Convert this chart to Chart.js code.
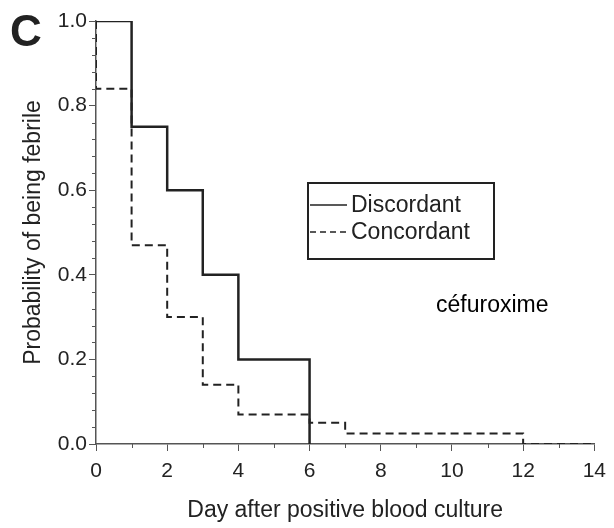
<!DOCTYPE html>
<html>
<head>
<meta charset="utf-8">
<script src="https://cdn.jsdelivr.net/npm/chart.js@4.4.0/dist/chart.umd.min.js"></script>
<style>
  html, body { margin: 0; padding: 0; background: #fff; }
  #wrap { width: 614px; height: 528px; position: relative; }
</style>
</head>
<body>
<div id="wrap"><canvas id="myChart" width="614" height="528"></canvas></div>
<script>
// Kaplan-Meier steps
const discordantDays = [0, 1, 2, 3, 4, 6];
const discordantProb = [1.0, 0.75, 0.6, 0.4, 0.2, 0.0];
const concordantDays = [0, 0, 1, 2, 3, 4, 6, 7, 12, 14];
const concordantProb = [1.0, 0.84, 0.47, 0.3, 0.14, 0.07, 0.05, 0.025, 0.0, 0.0];

const xTicks = [0, 2, 4, 6, 8, 10, 12, 14];
const yTicks = [0.0, 0.2, 0.4, 0.6, 0.8, 1.0];
const xMinor = [1, 3, 5, 7, 9, 11, 13];
const yMinor = [0.04, 0.08, 0.12, 0.16, 0.24, 0.28, 0.32, 0.36, 0.44, 0.48, 0.52, 0.56, 0.64, 0.68, 0.72, 0.76, 0.84, 0.88, 0.92, 0.96];

const seriesNames = ["Discordant", "Concordant"];
const drugLabel = "céfuroxime";
const panelLetter = "C";

const font = "'Liberation Sans', Arial, sans-serif";
const ink = "#222";

function toPoints(xs, ys) {
  return xs.map((x, i) => ({ x: x, y: ys[i] }));
}

// minor ticks, panel letter, legend box and the drug label
const extras = {
  id: "extras",
  afterDraw(chart) {
    const ctx = chart.ctx;
    const xs = chart.scales.x;
    const ys = chart.scales.y;
    ctx.save();
    ctx.strokeStyle = "#555";
    ctx.lineWidth = 1;
    xMinor.forEach((v) => {
      const px = Math.round(xs.getPixelForValue(v)) + 0.5;
      ctx.beginPath();
      ctx.moveTo(px, ys.bottom);
      ctx.lineTo(px, ys.bottom + 4);
      ctx.stroke();
    });
    yMinor.forEach((v) => {
      const py = Math.round(ys.getPixelForValue(v)) + 0.5;
      ctx.beginPath();
      ctx.moveTo(xs.left, py);
      ctx.lineTo(xs.left - 4, py);
      ctx.stroke();
    });

    // panel letter
    ctx.fillStyle = ink;
    ctx.font = "bold 44px " + font;
    ctx.textAlign = "left";
    ctx.textBaseline = "middle";
    ctx.fillText(panelLetter, 10, 34);

    // legend box
    ctx.strokeStyle = ink;
    ctx.lineWidth = 2;
    ctx.strokeRect(308, 183, 186, 76);
    ctx.lineWidth = 1.5;
    ctx.beginPath();
    ctx.moveTo(310, 205);
    ctx.lineTo(347, 205);
    ctx.stroke();
    ctx.setLineDash([6, 4]);
    ctx.beginPath();
    ctx.moveTo(310, 232);
    ctx.lineTo(347, 232);
    ctx.stroke();
    ctx.setLineDash([]);
    ctx.font = "23px " + font;
    ctx.fillText(seriesNames[0], 351, 206);
    ctx.fillText(seriesNames[1], 351, 233);

    // drug annotation
    ctx.fillStyle = "#000";
    ctx.font = "23px " + font;
    ctx.fillText(drugLabel, 436, 306);
    ctx.restore();
  }
};

new Chart(document.getElementById("myChart"), {
  type: "line",
  data: {
    datasets: [
      {
        label: seriesNames[0],
        data: toPoints(discordantDays, discordantProb),
        stepped: true,
        borderColor: ink,
        borderWidth: 2.5,
        pointRadius: 0,
        fill: false,
      },
      {
        label: seriesNames[1],
        data: toPoints(concordantDays, concordantProb),
        stepped: true,
        borderColor: ink,
        borderWidth: 2,
        borderDash: [8, 5],
        pointRadius: 0,
        fill: false,
      },
    ],
  },
  options: {
    responsive: false,
    animation: false,
    layout: { padding: { left: 0, top: 21, right: 19, bottom: 0 } },
    plugins: { legend: { display: false }, tooltip: { enabled: false } },
    scales: {
      x: {
        type: "linear",
        min: 0,
        max: 14,
        afterBuildTicks: (s) => { s.ticks = xTicks.map((v) => ({ value: v })); },
        afterFit: (s) => { s.height = 84; },
        grid: { drawOnChartArea: false, drawTicks: true, tickLength: 7, color: "#555" },
        border: { color: "#555", width: 1.5 },
        ticks: { color: ink, font: { family: font, size: 21 }, padding: 8 },
        title: { display: true, text: "Day after positive blood culture", color: ink, font: { family: font, size: 23 }, padding: { top: 8 } },
      },
      y: {
        type: "linear",
        min: 0,
        max: 1,
        afterBuildTicks: (s) => { s.ticks = yTicks.map((v) => ({ value: v })); },
        afterFit: (s) => { s.width = 96; },
        grid: { drawOnChartArea: false, drawTicks: true, tickLength: 7, color: "#555" },
        border: { color: "#555", width: 1.5 },
        ticks: { color: ink, font: { family: font, size: 21 }, padding: 2, callback: (v) => v.toFixed(1) },
        title: { display: true, text: "Probability of being febrile", color: ink, font: { family: font, size: 23 }, padding: { top: 20, bottom: 6 } },
      },
    },
  },
  plugins: [extras],
});
</script>
</body>
</html>
